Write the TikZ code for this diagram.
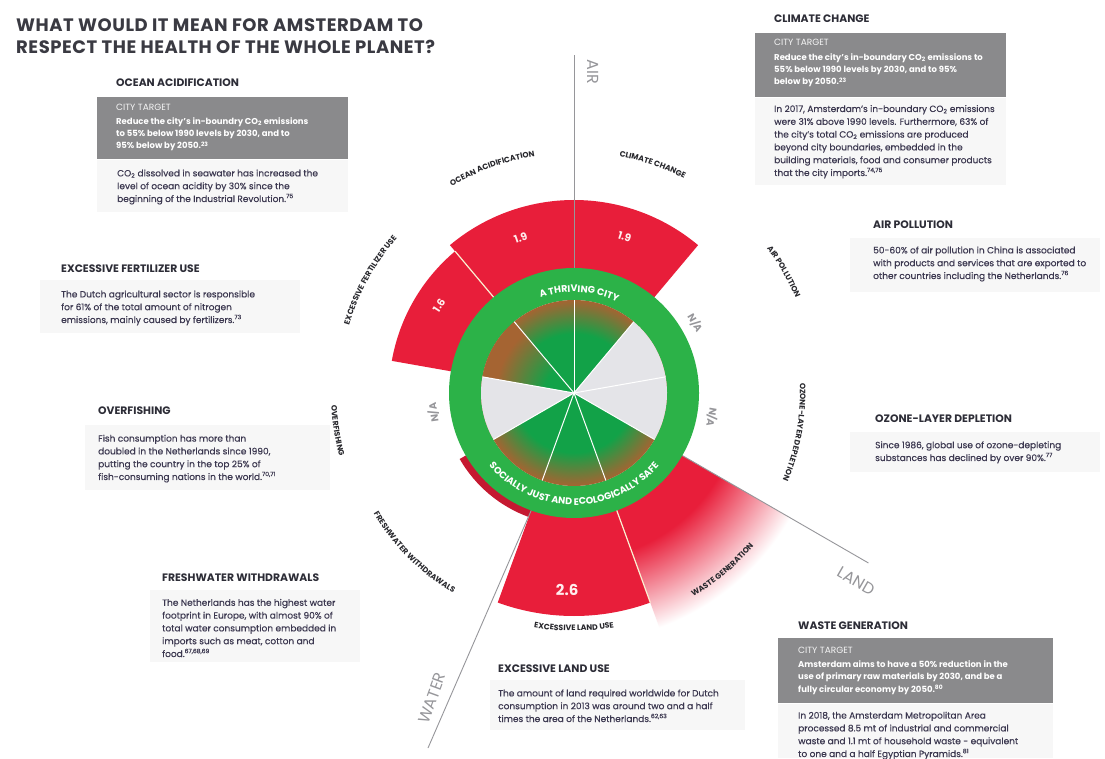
\documentclass[tikz,border=0pt]{standalone}
\usepackage{fontspec}
\setmainfont{Poppins}
\usetikzlibrary{decorations.text}
\definecolor{titlec}{RGB}{58,58,66}
\definecolor{headc}{RGB}{45,45,55}
\definecolor{bodyc}{RGB}{60,56,80}
\definecolor{boxgray}{RGB}{138,138,140}
\definecolor{faint}{RGB}{247,247,247}
\definecolor{redw}{RGB}{232,30,58}
\definecolor{ringg}{RGB}{44,178,72}
\definecolor{dkg}{RGB}{18,162,72}
\definecolor{brn}{RGB}{165,100,50}
\definecolor{nag}{RGB}{228,228,232}
\definecolor{axisg}{RGB}{150,150,154}
\definecolor{cream}{RGB}{250,240,210}
\definecolor{lblc}{RGB}{40,40,45}
\pgfdeclareradialshading{innershade}{\pgfpoint{0bp}{0bp}}{color(0bp)=(dkg); color(16bp)=(dkg); color(25bp)=(brn); color(50bp)=(brn)}
\pgfdeclareradialshading{fertshade}{\pgfpoint{0bp}{0bp}}{color(0bp)=(dkg); color(8bp)=(dkg); color(21bp)=(brn); color(50bp)=(brn)}
\pgfdeclareradialshading{wasteshade}{\pgfpoint{0bp}{0bp}}{color(0bp)=(redw); color(16bp)=(redw); color(24bp)=(white); color(50bp)=(white)}
\newcommand{\lblf}{\fontsize{7.8}{7.8}\selectfont\bfseries\color{lblc}}
\newcommand{\ringf}{\fontsize{9.5}{9.5}\selectfont\bfseries\color{white}}
\begin{document}
\begin{tikzpicture}[x=1pt,y=1pt,
  title/.style={anchor=base west, inner sep=0, align=left, text=titlec, font=\fontsize{18}{22}\selectfont\bfseries\addfontfeature{LetterSpace=3}},
  head/.style={anchor=base west, inner sep=0, text=headc, font=\fontsize{10.8}{12}\selectfont\bfseries},
  body/.style={anchor=base west, inner sep=0, align=left, text=bodyc, font=\fontsize{9}{12.8}\selectfont\addfontfeature{FakeBold=0.4}},
  boxbody/.style={anchor=base west, inner sep=0, align=left, text=white, font=\fontsize{8.5}{12.4}\selectfont\bfseries},
  ctlbl/.style={anchor=base west, inner sep=0, text=white!92!gray, font=\fontsize{9}{10}\selectfont},
  graybox/.style={fill=boxgray},
  faintbox/.style={fill=faint},
  na/.style={text=axisg, font=\fontsize{10}{10}\selectfont\bfseries, inner sep=0},
  val/.style={text=white!93!red, font=\fontsize{10.5}{10.5}\selectfont\bfseries, inner sep=0},
  valbig/.style={text=white!93!red, font=\fontsize{15}{15}\selectfont\bfseries, inner sep=0},
  axis/.style={draw=axisg, line width=0.9pt},
  axislbl/.style={text=axisg, font=\fontsize{16}{16}\selectfont, inner sep=0},
  sepline/.style={draw=white, line width=1pt},
  redsep/.style={draw=cream, line width=1.2pt},
]
\useasboundingbox (0,0) rectangle (1105,758);
\fill[white] (0,0) rectangle (1105,758);

% faint backgrounds behind text
\fill[faintbox] (97,546) rectangle (348,598);
\fill[faintbox] (755,573) rectangle (1006,660);
\fill[faintbox] (850,466) rectangle (1100,520);
\fill[faintbox] (40,425) rectangle (300,478);
\fill[faintbox] (85,268) rectangle (330,333);
\fill[faintbox] (850,286) rectangle (1100,326);
\fill[faintbox] (150,96) rectangle (360,168);
\fill[faintbox] (490,28) rectangle (745,78);
\fill[faintbox] (778,0) rectangle (1053,54);

\coordinate (wend) at (428,10);

% ================= chart =================
\begin{scope}[shift={(574,365)}]
  \coordinate (C) at (0,0);
  % outer red wedges
  \fill[redw] (90:118pt) -- (90:193pt) arc[start angle=90,end angle=50,radius=193pt] -- (50:118pt) -- cycle;
  \fill[redw] (130:118pt) -- (130:193pt) arc[start angle=130,end angle=90,radius=193pt] -- (90:118pt) -- cycle;
  \fill[redw] (170:118pt) -- (170:185pt) arc[start angle=170,end angle=130,radius=185pt] -- (130:118pt) -- cycle;
  \fill[redw] (-110:118pt) -- (-110:223pt) arc[start angle=-110,end angle=-70,radius=223pt] -- (-70:118pt) -- cycle;
  \fill[redw!85!black] (-150:118pt) -- (-150:132pt) arc[start angle=-150,end angle=-110,radius=132pt] -- (-110:118pt) -- cycle;
  \begin{scope}
    \clip (-70:118pt) -- (-70:262pt) arc[start angle=-70,end angle=-30,radius=262pt] -- (-30:118pt) -- cycle;
    \shade[shading=wasteshade] (0,0) circle (260pt);
  \end{scope}
  % separators in red wedges
  \draw[redsep] (130:124pt) -- (130:185pt);
  \draw[redsep] (-70:124pt) -- (-70:223pt);
  % axis lines
  \draw[axis] (90:124pt) -- (90:338pt);
  \draw[axis] (-30:124pt) -- (-30:340pt);
  \draw[axis] (-110:124pt) -- (wend);
  % green ring
  \fill[ringg, even odd rule] (0,0) circle (125pt) (0,0) circle (93pt);
  % inner disk
  \shade[shading=innershade] (0,0) circle (93pt);
  \begin{scope}
    \clip (0,0) -- (170:94pt) arc[start angle=170,end angle=130,radius=94pt] -- cycle;
    \shade[shading=fertshade] (0,0) circle (93pt);
  \end{scope}
  \fill[nag] (0,0) -- (50:93pt) arc[start angle=50,end angle=-30,radius=93pt] -- cycle;
  \fill[nag] (0,0) -- (170:93pt) arc[start angle=170,end angle=210,radius=93pt] -- cycle;
  \foreach \a in {90,50,10,-30,-70,-110,-150,170,130}
    \draw[sepline] (0,0) -- (\a:93pt);
  % ring texts
  \path[decorate,decoration={text along path,text align=center,text={|\ringf|A THRIVING CITY}}]
    (127:101pt) arc[start angle=127,end angle=47,radius=101pt];
  \path[decorate,decoration={text along path,text align=center,text={|\ringf|SOCIALLY JUST AND ECOLOGICALLY SAFE}}]
    (-155:112pt) arc[start angle=-155,end angle=-25,radius=112pt];
  % values
  \node[val, rotate=-18] (v1) at (72:164pt) {1.9};
  \node[val, rotate=19] (v2) at (109:164pt) {1.9};
  \node[val, rotate=57] (v3) at (147:161pt) {1.6};
  \node[valbig] (v4) at (-92:197pt) {2.6};
  % N/A
  \node[na, rotate=-60] (na1) at (30:140pt) {N/A};
  \node[na, rotate=-100] (na2) at (-10:140pt) {N/A};
  \node[na, rotate=98] (na3) at (188:142pt) {N/A};
  % boundary labels
  \path[decorate,decoration={text along path,text align=center,text={|\lblf|OCEAN ACIDIFICATION}}]
    (132:240pt) arc[start angle=132,end angle=88,radius=240pt];
  \path[decorate,decoration={text along path,text align=center,text={|\lblf|CLIMATE CHANGE}}]
    (92:241pt) arc[start angle=92,end angle=50,radius=241pt];
  \path[decorate,decoration={text along path,text align=center,text={|\lblf|AIR POLLUTION}}]
    (51:241pt) arc[start angle=51,end angle=9,radius=241pt];
  \path[decorate,decoration={text along path,text align=center,text={|\lblf|OZONE-LAYER DEPLETION}}]
    (14:226pt) arc[start angle=14,end angle=-34,radius=226pt];
  \path[decorate,decoration={text along path,text align=center,text={|\lblf|EXCESSIVE FERTILIZER USE}}]
    (176:235pt) arc[start angle=176,end angle=126,radius=235pt];
  \path[decorate,decoration={text along path,text align=center,text={|\lblf|WASTE GENERATION}}]
    (-72:236pt) arc[start angle=-72,end angle=-28,radius=236pt];
  \path[decorate,decoration={text along path,text align=center,text={|\lblf|EXCESSIVE LAND USE}}]
    (-112:238pt) arc[start angle=-112,end angle=-68,radius=238pt];
  \path[decorate,decoration={text along path,text align=center,text={|\lblf|FRESHWATER WITHDRAWALS}}]
    (-161:234pt) arc[start angle=-161,end angle=-109,radius=234pt];
  \path[decorate,decoration={text along path,text align=center,text={|\lblf|OVERFISHING}}]
    (168:243pt) arc[start angle=168,end angle=210,radius=243pt];
\end{scope}

% axis labels
\node[axislbl, rotate=-90] (air) at (593,686) {AIR};
\node[axislbl, rotate=-30] (land) at (856,177) {LAND};
\node[axislbl, rotate=70] (water) at (432,60) {WATER};

% ================= title =================
\node[title] (title) at (16,704) {WHAT WOULD IT MEAN FOR AMSTERDAM TO\\RESPECT THE HEALTH OF THE WHOLE PLANET?};

% ================= ocean acidification =================
\node[head] (hoa) at (116,671) {OCEAN ACIDIFICATION};
\fill[graybox] (97,599) rectangle (348,661);
\node[ctlbl] (ctoa) at (116,647) {CITY TARGET};
\node[boxbody] (boa) at (116,609) {Reduce the city's in-boundry CO\textsubscript{2} emissions\\to 55\% below 1990 levels by 2030, and to\\95\% below by 2050.\textsuperscript{23}};
\node[body] (toa) at (117,556) {CO\textsubscript{2} dissolved in seawater has increased the\\level of ocean acidity by 30\% since the\\beginning of the Industrial Revolution.\textsuperscript{75}};

% ================= climate change =================
\node[head] (hcc) at (774,735) {CLIMATE CHANGE};
\fill[graybox] (755,661) rectangle (1006,725);
\node[ctlbl] (ctcc) at (774,712) {CITY TARGET};
\node[boxbody] (bcc) at (774,673) {Reduce the city's in-boundary CO\textsubscript{2} emissions to\\55\% below 1990 levels by 2030, and to 95\%\\below by 2050.\textsuperscript{23}};
\node[body] (tcc) at (774,582) {In 2017, Amsterdam's in-boundary CO\textsubscript{2} emissions\\were 31\% above 1990 levels. Furthermore, 63\% of\\the city's total CO\textsubscript{2} emissions are produced\\beyond city boundaries, embedded in the\\building materials, food and consumer products\\that the city imports.\textsuperscript{74,75}};

% ================= air pollution =================
\node[head] (hap) at (873,529) {AIR POLLUTION};
\node[body] (tap) at (873,479) {50-60\% of air pollution in China is associated\\with products and services that are exported to\\other countries including the Netherlands.\textsuperscript{76}};

% ================= fertilizer =================
\node[head] (hfu) at (61,485) {EXCESSIVE FERTILIZER USE};
\node[body] (tfu) at (61,435) {The Dutch agricultural sector is responsible\\for 61\% of the total amount of nitrogen\\emissions, mainly caused by fertilizers.\textsuperscript{73}};

% ================= overfishing =================
\node[head] (hof) at (98,343) {OVERFISHING};
\node[body] (tof) at (98,278) {Fish consumption has more than\\doubled in the Netherlands since 1990,\\putting the country in the top 25\% of\\fish-consuming nations in the world.\textsuperscript{70,71}};

% ================= ozone =================
\node[head] (hoz) at (875,335) {OZONE-LAYER DEPLETION};
\node[body] (toz) at (875,297) {Since 1986, global use of ozone-depleting\\substances has declined by over 90\%.\textsuperscript{77}};

% ================= freshwater =================
\node[head] (hfw) at (162,177) {FRESHWATER WITHDRAWALS};
\node[body] (tfw) at (162,101) {The Netherlands has the highest water\\footprint in Europe, with almost 90\% of\\total water consumption embedded in\\imports such as meat, cotton and\\food.\textsuperscript{67,68,69}};

% ================= land use =================
\node[head] (hlu) at (498,86) {EXCESSIVE LAND USE};
\node[body] (tlu) at (498,36) {The amount of land required worldwide for Dutch\\consumption in 2013 was around two and a half\\times the area of the Netherlands.\textsuperscript{62,63}};

% ================= waste =================
\node[head] (hwg) at (798,129) {WASTE GENERATION};
\fill[graybox] (778,55) rectangle (1053,120);
\node[ctlbl] (ctwg) at (798,105) {CITY TARGET};
\node[boxbody] (bwg) at (798,66) {Amsterdam aims to have a 50\% reduction in the\\use of primary raw materials by 2030, and be a\\fully circular economy by 2050.\textsuperscript{80}};
\node[body] (twg) at (798,1) {In 2018, the Amsterdam Metropolitan Area\\processed 8.5 mt of industrial and commercial\\waste and 1.1 mt of household waste - equivalent\\to one and a half Egyptian Pyramids.\textsuperscript{81}};
\end{tikzpicture}
\end{document}
